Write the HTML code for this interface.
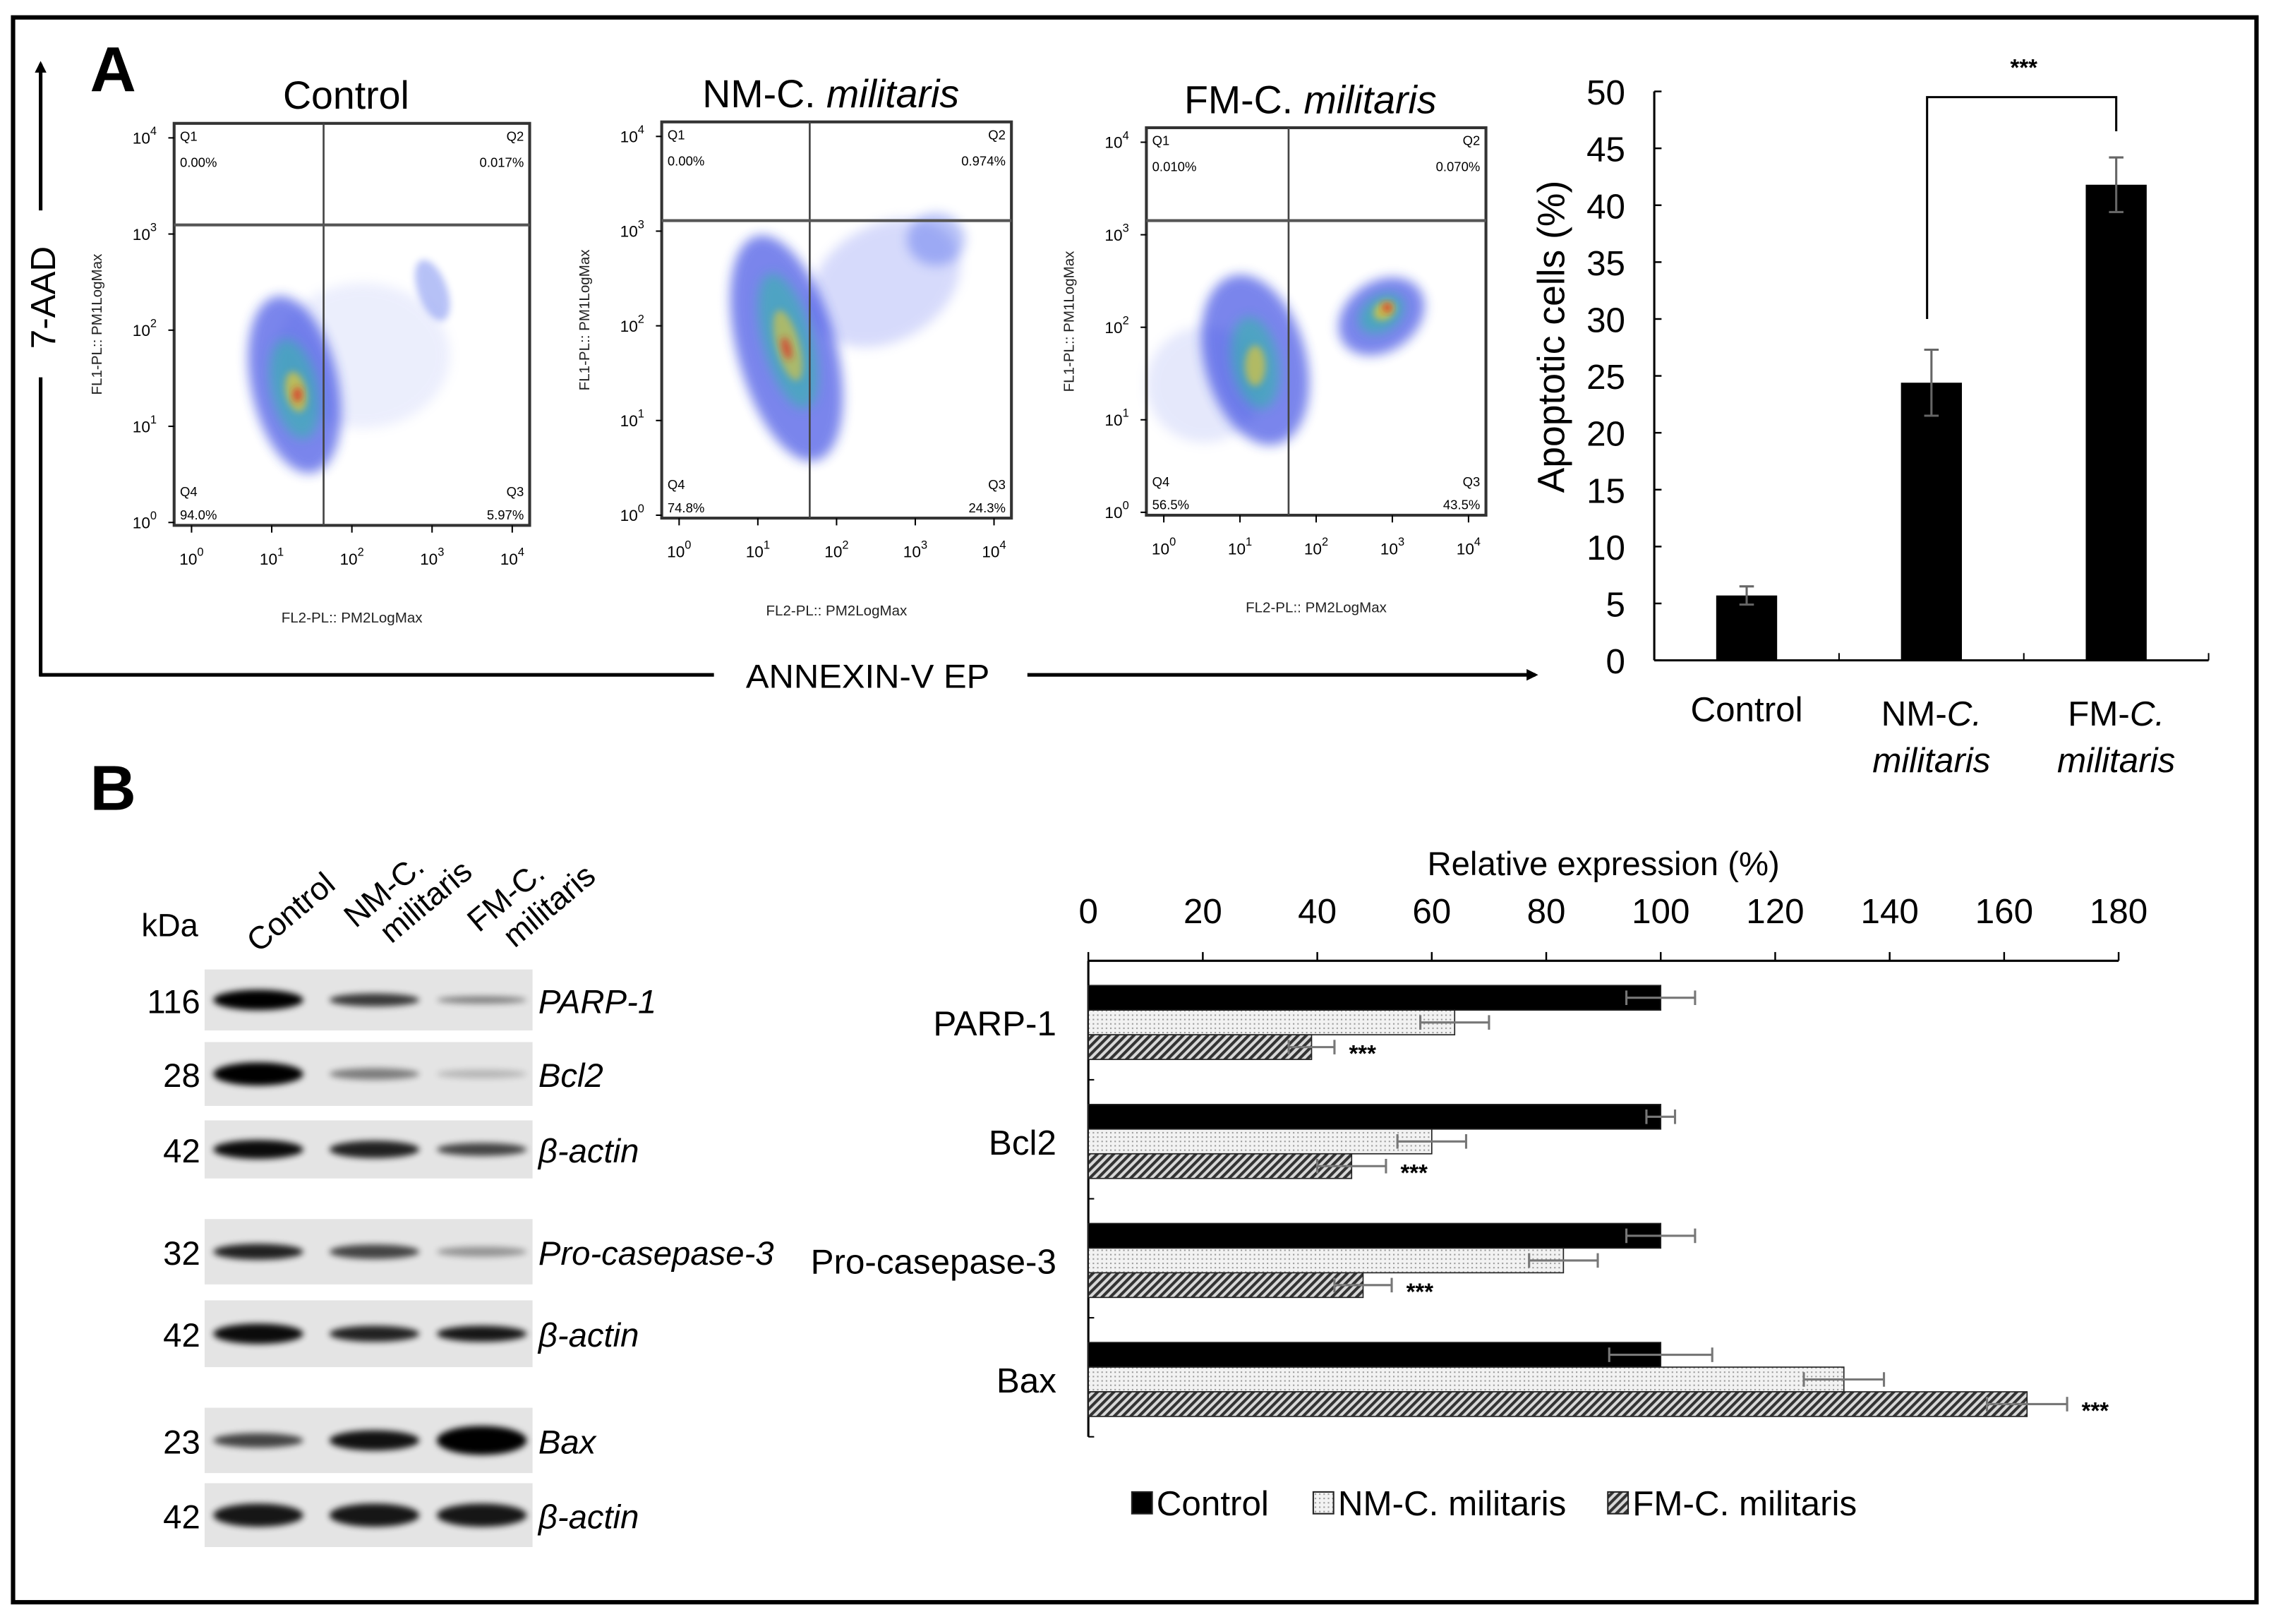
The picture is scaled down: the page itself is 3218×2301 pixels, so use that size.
<!DOCTYPE html>
<html><head><meta charset="utf-8">
<style>
html,body{margin:0;padding:0;background:#fff}
svg{display:block}
text{font-family:"Liberation Sans",Arial,sans-serif}
</style></head>
<body>
<svg id="fig" xmlns="http://www.w3.org/2000/svg" width="3218" height="2301" viewBox="0 0 1565 1119" preserveAspectRatio="none">
<defs>
<filter id="blur3" x="-50%" y="-50%" width="200%" height="200%"><feGaussianBlur stdDeviation="4"/></filter>
<filter id="blur2" x="-50%" y="-50%" width="200%" height="200%"><feGaussianBlur stdDeviation="2.5"/></filter>
<filter id="blurBand" x="-30%" y="-80%" width="160%" height="260%"><feGaussianBlur stdDeviation="2.2"/></filter>
<pattern id="dots" width="3" height="3" patternUnits="userSpaceOnUse"><rect width="3" height="3" fill="#f2f2f2"/><rect width="1" height="1" fill="#9a9a9a"/></pattern>
<pattern id="hatch" width="4" height="4" patternUnits="userSpaceOnUse" patternTransform="rotate(45)"><rect width="4" height="4" fill="#d8d8d8"/><rect width="2" height="4" fill="#333"/></pattern>
<marker id="arrowHead" markerWidth="8" markerHeight="8" refX="6" refY="4" orient="auto" markerUnits="userSpaceOnUse"><path d="M0,0 L8,4 L0,8 z" fill="#000"/></marker>
</defs>
<rect x="9" y="12" width="1546" height="1092" fill="none" stroke="#000" stroke-width="3"/>
<text x="62" y="63" font-size="44" font-weight="bold">A</text>
<text x="62" y="558" font-size="44" font-weight="bold">B</text>
<line x1="28" y1="145" x2="28" y2="44" stroke="#000" stroke-width="2.5" marker-end="url(#arrowHead)"/>
<line x1="28" y1="260" x2="28" y2="466" stroke="#000" stroke-width="2.5"/>
<text transform="translate(38,205) rotate(-90)" text-anchor="middle" font-size="24">7-AAD</text>
<line x1="27" y1="465" x2="492" y2="465" stroke="#000" stroke-width="2.5"/>
<text x="598" y="474" text-anchor="middle" font-size="23" textLength="168" lengthAdjust="spacingAndGlyphs">ANNEXIN-V EP</text>
<line x1="708" y1="465" x2="1058" y2="465" stroke="#000" stroke-width="2.5" marker-end="url(#arrowHead)"/>
<g id="flow"></g>
<g id="barA"></g>
<g id="blot"></g>
<g id="barB"></g>
</svg>
<script>
const NS="http://www.w3.org/2000/svg";
function mk(tag,attrs,parent,txt){const e=document.createElementNS(NS,tag);for(const k in attrs)e.setAttribute(k,attrs[k]);if(txt!==undefined)e.textContent=txt;parent.appendChild(e);return e;}

/* ---------- Flow cytometry panels ---------- */
const flowTitles=["Control","NM-C. militaris","FM-C. militaris"];
const flowQ1=["0.00%","0.00%","0.010%"];
const flowQ2=["0.017%","0.974%","0.070%"];
const flowQ3=["5.97%","24.3%","43.5%"];
const flowQ4=["94.0%","74.8%","56.5%"];
const flowBoxes=[[120,85,365,362],[456,84,697,357],[790,88,1024,355]];
const flowSplit=[[223,155],[558,152],[888,152]];
const flowBlobs=[
 [[250,245,60,50,0,"#8090f0",0.15],[203,265,30,62,-12,"#2035e0",0.6],[203,268,16,35,-12,"#30b8a8",0.6],[204,270,7,14,-12,"#e8c830",0.7],[205,272,3,5,0,"#e02020",0.8],[298,200,10,22,-20,"#3050e8",0.35]],
 [[610,195,55,40,-30,"#6070f0",0.25],[542,240,34,80,-15,"#2035e0",0.6],[543,235,17,48,-15,"#30b8a8",0.6],[543,238,8,25,-15,"#e8c830",0.6],[542,240,3,8,-15,"#e02020",0.7],[645,165,20,18,0,"#3050e8",0.35]],
 [[830,265,40,40,0,"#8090f0",0.2],[865,248,35,60,-15,"#2035e0",0.6],[865,250,16,32,-10,"#30b8a8",0.6],[865,252,7,14,0,"#e8c830",0.65],[952,218,32,24,-35,"#2035e0",0.6],[952,216,17,12,-35,"#30b8a8",0.65],[954,214,8,6,-35,"#e8c830",0.75],[956,212,3,3,0,"#e02020",0.9]]
];
const yTickLabels=["0","1","2","3","4"];
const flowG=document.getElementById("flow");
flowTitles.forEach((t,i)=>{
  const [x0,y0,x1,y1]=flowBoxes[i];
  const g=mk("g",{},flowG);
  
  
  const parts=t.split("C. ");
  const title=mk("text",{x:(x0+x1)/2-4,y:y0-10,"text-anchor":"middle","font-size":27},g);
  
  
  if(parts.length>1){mk("tspan",{},title,parts[0]+"C. ");mk("tspan",{"font-style":"italic"},title,parts[1]);}else title.textContent=t;
  const cg=mk("g",{},g);
  flowBlobs[i].forEach(b=>{const el=mk("ellipse",{cx:b[0],cy:b[1],rx:b[2],ry:b[3],fill:b[5],opacity:b[6],transform:`rotate(${b[4]} ${b[0]} ${b[1]})`,filter:b[2]>15?"url(#blur3)":"url(#blur2)"},cg);
    
    });
  const box=mk("rect",{x:x0,y:y0,width:x1-x0,height:y1-y0,fill:"none",stroke:"#333","stroke-width":2},g);
  
  
  const [sx,sy]=flowSplit[i];
  mk("line",{x1:sx,y1:y0,x2:sx,y2:y1,stroke:"#444","stroke-width":1.3},g);
  mk("line",{x1:x0,y1:sy,x2:x1,y2:sy,stroke:"#555","stroke-width":2},g);
  const fs=9;
  mk("text",{x:x0+4,y:y0+12,"font-size":fs},g,"Q1");
  mk("text",{x:x0+4,y:y0+30,"font-size":fs},g,flowQ1[i]);
  mk("text",{x:x1-4,y:y0+12,"font-size":fs,"text-anchor":"end"},g,"Q2");
  mk("text",{x:x1-4,y:y0+30,"font-size":fs,"text-anchor":"end"},g,flowQ2[i]);
  mk("text",{x:x0+4,y:y1-20,"font-size":fs},g,"Q4");
  mk("text",{x:x0+4,y:y1-4,"font-size":fs},g,flowQ4[i]);
  mk("text",{x:x1-4,y:y1-20,"font-size":fs,"text-anchor":"end"},g,"Q3");
  mk("text",{x:x1-4,y:y1-4,"font-size":fs,"text-anchor":"end"},g,flowQ3[i]);
  const h=y1-y0, w=x1-x0;
  yTickLabels.forEach((e,k)=>{
    const yy=y1-k*(h-12)/4-2;
    const tx=mk("text",{x:x0-12,y:yy+4,"font-size":11,"text-anchor":"end"},g);
    mk("tspan",{},tx,"10");mk("tspan",{dy:-6,"font-size":8},tx,e);
    const xx=x0+12+k*(w-24)/4;
    const tx2=mk("text",{x:xx,y:y1+27,"font-size":11,"text-anchor":"middle"},g);
    mk("tspan",{},tx2,"10");mk("tspan",{dy:-6,"font-size":8},tx2,e);
    mk("line",{x1:x0-4,y1:yy,x2:x0,y2:yy,stroke:"#000"},g);
    mk("line",{x1:xx,y1:y1,x2:xx,y2:y1+5,stroke:"#000"},g);
  });
  mk("text",{transform:`translate(${x0-50},${(y0+y1)/2}) rotate(-90)`,"font-size":10,"text-anchor":"middle",fill:"#222"},g,"FL1-PL:: PM1LogMax");
  mk("text",{x:(x0+x1)/2,y:y1+67,"font-size":10,"text-anchor":"middle",fill:"#222"},g,"FL2-PL:: PM2LogMax");
});

/* ---------- Bar chart A ---------- */
const aCategories=["Control","NM-C. militaris","FM-C. militaris"];
const aValues=[5.7,24.4,41.8];
const aErrors=[0.8,2.9,2.4];
const aTicks=[0,5,10,15,20,25,30,35,40,45,50];
const gA=document.getElementById("barA");
const aX0=1140,aX1=1522,aY0=455,aYmax=63;
const ay=v=>aY0-(v/50)*(aY0-aYmax);
const aBand=(aX1-aX0)/3;
const ax=i=>aX0+aBand*(i+0.5);
mk("line",{x1:aX0,y1:aYmax,x2:aX0,y2:aY0,stroke:"#000","stroke-width":1.5},gA);
mk("line",{x1:aX0,y1:aY0,x2:aX1,y2:aY0,stroke:"#000","stroke-width":1.5},gA);
aTicks.forEach(t=>{
  const y=ay(t);
  mk("line",{x1:aX0,y1:y,x2:aX0+5,y2:y,stroke:"#000","stroke-width":1.2},gA);
  const lb=mk("text",{x:aX0-20,y:y+9,"text-anchor":"end","font-size":24},gA,String(t));
  
  
});
for(let i=1;i<=3;i++){mk("line",{x1:aX0+aBand*i,y1:aY0,x2:aX0+aBand*i,y2:aY0-5,stroke:"#000"},gA);}
const aTitle=mk("text",{transform:"translate(1078,232) rotate(-90)","text-anchor":"middle","font-size":26},gA,"Apoptotic cells (%)");


aValues.forEach((v,i)=>{
  const bar=mk("rect",{x:ax(i)-21,y:ay(v),width:42,height:aY0-ay(v),fill:"#000"},gA);
  
  
  const e=aErrors[i];
  mk("line",{x1:ax(i),y1:ay(v-e),x2:ax(i),y2:ay(v+e),stroke:"#666","stroke-width":1.5},gA);
  mk("line",{x1:ax(i)-5,y1:ay(v-e),x2:ax(i)+5,y2:ay(v-e),stroke:"#666","stroke-width":1.5},gA);
  mk("line",{x1:ax(i)-5,y1:ay(v+e),x2:ax(i)+5,y2:ay(v+e),stroke:"#666","stroke-width":1.5},gA);
});
const xl0=mk("text",{x:ax(0),y:497,"text-anchor":"middle","font-size":24},gA,"Control");


[1,2].forEach(i=>{
  const a=mk("text",{x:ax(i),y:500,"text-anchor":"middle","font-size":24},gA);
  
  
  mk("tspan",{},a,(i==1?"NM-":"FM-"));mk("tspan",{"font-style":"italic"},a,"C.");
  mk("text",{x:ax(i),y:532,"text-anchor":"middle","font-size":24,"font-style":"italic"},gA,"militaris");
});
const br=mk("path",{d:`M${ax(1)-3},${ay(30)} V${ay(49.5)} H${ax(2)} V${ay(46.5)}`,fill:"none",stroke:"#000","stroke-width":1.5},gA);


mk("text",{x:(ax(1)+ax(2))/2,y:52,"text-anchor":"middle","font-size":16,"font-weight":"bold"},gA,"***");

/* ---------- Western blot ---------- */
const blotLabels=["PARP-1","Bcl2","β-actin","Pro-casepase-3","β-actin","Bax","β-actin"];
const blotKda=["116","28","42","32","42","23","42"];
const blotRows=[[668,710],[718,762],[772,812],[840,885],[896,942],[970,1015],[1022,1066]];
const blotIntensity=[[1,0.75,0.45],[1,0.45,0.2],[0.95,0.85,0.7],[0.85,0.7,0.35],[0.95,0.85,0.9],[0.7,0.92,1],[0.9,0.9,0.9]];
const blotHeight=[[14,9,5],[16,8,6],[13,12,9],[11,10,7],[14,11,11],[10,14,20],[16,16,16]];
const lanes=[178,258,332];
const gB=document.getElementById("blot");
mk("text",{x:117,y:645,"text-anchor":"middle","font-size":22},gB,"kDa");
const laneLabels=[["Control"],["NM-C.","militaris"],["FM-C.","militaris"]];
laneLabels.forEach((l,i)=>{
  const t=mk("text",{transform:`translate(${[178,245,330][i]},${[657,640,643][i]}) rotate(-40)`,"font-size":22},gB);
  
  
  mk("tspan",{x:0,dy:0},t,l[0]);
  if(l[1])mk("tspan",{x:12,dy:24},t,l[1]);
});
blotLabels.forEach((lab,r)=>{
  const [y0,y1]=blotRows[r];
  const strip=mk("rect",{x:141,y:y0,width:226,height:y1-y0,fill:"#e4e4e4"},gB);
  
  
  lanes.forEach((cx,k)=>{
    const b=mk("ellipse",{cx:cx,cy:(y0+y1)/2,rx:31,ry:blotHeight[r][k]/2,fill:"#000",opacity:blotIntensity[r][k],filter:"url(#blurBand)"},gB);
    
    
  });
  mk("text",{x:138,y:(y0+y1)/2+9,"text-anchor":"end","font-size":23},gB,blotKda[r]);
  const lt=mk("text",{x:371,y:(y0+y1)/2+9,"font-size":23,"font-style":"italic"},gB,lab);
  
  
});

/* ---------- Bar chart B (horizontal) ---------- */
const bCategories=["PARP-1","Bcl2","Pro-casepase-3","Bax"];
const bControl=[100,100,100,100];
const bNM=[64,60,83,132];
const bFM=[39,46,48,164];
const bErrControl=[6,2.5,6,9];
const bErrNM=[6,6,6,7];
const bErrFM=[4,6,5,7];
const bTicks=[0,20,40,60,80,100,120,140,160,180];
const gC=document.getElementById("barB");
const bX0=750,bX1=1460,bY0=662,bY1=990;
const bx=v=>bX0+(v/180)*(bX1-bX0);
const groupH=(bY1-bY0)/4;
const gy=i=>bY0+groupH*i;
mk("line",{x1:bX0,y1:bY0,x2:bX1,y2:bY0,stroke:"#000","stroke-width":1.5},gC);
mk("line",{x1:bX0,y1:bY0,x2:bX0,y2:bY1,stroke:"#000","stroke-width":1.5},gC);
bTicks.forEach(t=>{
  mk("line",{x1:bx(t),y1:bY0,x2:bx(t),y2:bY0-6,stroke:"#000","stroke-width":1.2},gC);
  const lb=mk("text",{x:bx(t),y:636,"text-anchor":"middle","font-size":24},gC,String(t));
  
  
});
const bt=mk("text",{x:1105,y:603,"text-anchor":"middle","font-size":23},gC,"Relative expression (%)");


const series=[[bControl,bErrControl,"#000","control"],[bNM,bErrNM,"url(#dots)","nm"],[bFM,bErrFM,"url(#hatch)","fm"]];
bCategories.forEach((c,i)=>{
  mk("line",{x1:bX0,y1:gy(i+1),x2:bX0+4,y2:gy(i+1),stroke:"#000"},gC);
  const top=gy(i)+17, bh=17;
  series.forEach((s,k)=>{
    const v=s[0][i], e=s[1][i], y=top+k*bh;
    const r=mk("rect",{x:bX0,y:y,width:bx(v)-bX0,height:bh,fill:s[2],stroke:"#222","stroke-width":0.8},gC);
    
    
    const cy=y+bh/2;
    mk("line",{x1:bx(v-e),y1:cy,x2:bx(v+e),y2:cy,stroke:"#777","stroke-width":1.5},gC);
    mk("line",{x1:bx(v-e),y1:cy-5,x2:bx(v-e),y2:cy+5,stroke:"#777","stroke-width":1.5},gC);
    mk("line",{x1:bx(v+e),y1:cy-5,x2:bx(v+e),y2:cy+5,stroke:"#777","stroke-width":1.5},gC);
    if(k==2){mk("text",{x:bx(v+e)+10,y:cy+10,"font-size":16,"font-weight":"bold"},gC,"***");}
  });
  const lb=mk("text",{x:728,y:top+bh*1.5+9,"text-anchor":"end","font-size":24},gC,c);
  
  
});
const legendItems=[["Control","#000",780],["NM-C. militaris","url(#dots)",905],["FM-C. militaris","url(#hatch)",1108]];
legendItems.forEach(l=>{
  const g=mk("g",{},gC);
  
  
  mk("rect",{x:l[2],y:1028,width:14,height:15,fill:l[1],stroke:"#222","stroke-width":1},g);
  mk("text",{x:l[2]+17,y:1044,"font-size":24},g,l[0]);
});
</script>
</body></html>
